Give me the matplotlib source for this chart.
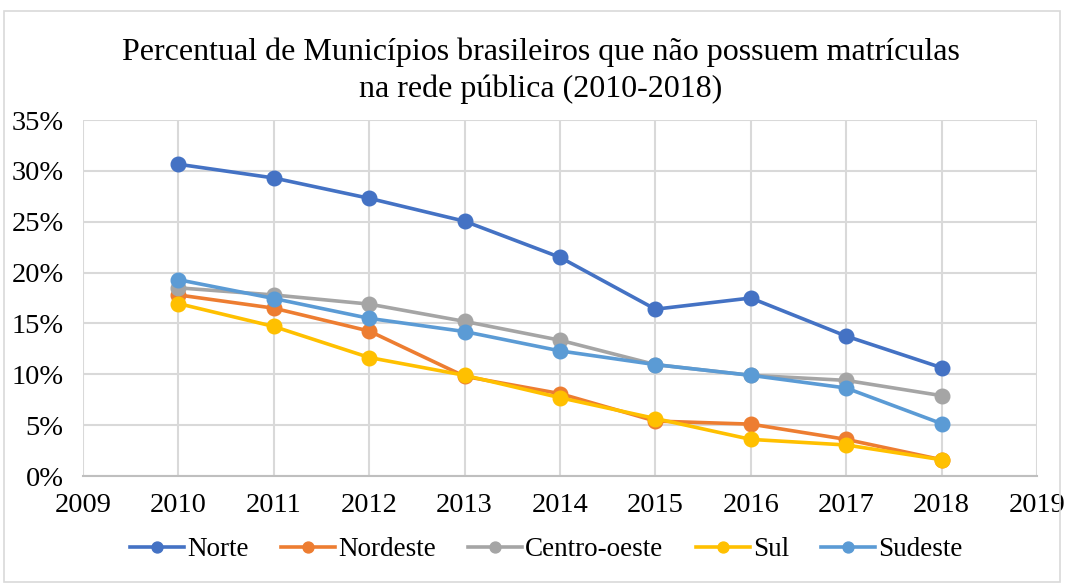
import numpy as np
import matplotlib
matplotlib.use("Agg")
import matplotlib.pyplot as plt
from matplotlib.patches import Rectangle
from matplotlib.ticker import FuncFormatter

plt.rcParams.update({"font.family": ["Liberation Serif", "DejaVu Serif"]})

years = [2010, 2011, 2012, 2013, 2014, 2015, 2016, 2017, 2018]
norte = [30.65, 29.3, 27.3, 25.05, 21.5, 16.4, 17.5, 13.75, 10.65]
nordeste = [17.8, 16.5, 14.25, 9.8, 8.1, 5.4, 5.1, 3.6, 1.6]
centro_oeste = [18.5, 17.8, 16.9, 15.2, 13.35, 10.95, 9.9, 9.4, 7.9]
sul = [16.95, 14.7, 11.65, 9.9, 7.7, 5.65, 3.6, 3.05, 1.6]
sudeste = [19.3, 17.45, 15.5, 14.2, 12.3, 10.95, 9.9, 8.65, 5.15]

series = [("Norte", norte, "#4472C4"), ("Nordeste", nordeste, "#ED7D31"),
          ("Centro-oeste", centro_oeste, "#A5A5A5"), ("Sul", sul, "#FFC000"),
          ("Sudeste", sudeste, "#5B9BD5")]

fig = plt.figure(figsize=(10.65, 5.83), dpi=100)
ax = fig.add_axes([83/1065, 1-476/583, (1037-83)/1065, (476-120)/583])

for name, vals, col in series:
    ax.plot(years, vals, "-o", color=col, lw=2.6, ms=10.5, label=name, clip_on=False, zorder=3)

ax.set_xlim(2009, 2019); ax.set_ylim(0, 35)
ax.set_xticks(range(2009, 2020)); ax.set_yticks(range(0, 36, 5))
ax.yaxis.set_major_formatter(FuncFormatter(lambda v, p: f"{v:.0f}%"))
ax.grid(True, color="#d9d9d9", lw=1.5); ax.set_axisbelow(True)
for s in ["top", "right", "left"]:
    ax.spines[s].set_visible(False)
ax.spines["bottom"].set_color("#bfbfbf"); ax.spines["bottom"].set_linewidth(1.5)
ax.tick_params(length=0, labelsize=20.5)
ax.tick_params(axis="x", pad=12)
ax.tick_params(axis="y", pad=14)

fig.text(0.508, 1-71/583, "Percentual de Municípios brasileiros que não possuem matrículas\nna rede pública (2010-2018)",
         ha="center", va="center", fontsize=23, linespacing=1.32)
ax.legend(loc="center", bbox_to_anchor=(0.513, 1-550/583), bbox_transform=fig.transFigure,
          ncol=5, frameon=False, fontsize=19.5, handlelength=2.0, handletextpad=0.1,
          columnspacing=1.2, markerscale=0.75)
fig.patches.append(Rectangle((4/1065, 0.002), 1056/1065, 1-12/583, transform=fig.transFigure,
                             fill=False, edgecolor="#d9d9d9", lw=1.2))
fig.savefig("out.png", dpi=100)
